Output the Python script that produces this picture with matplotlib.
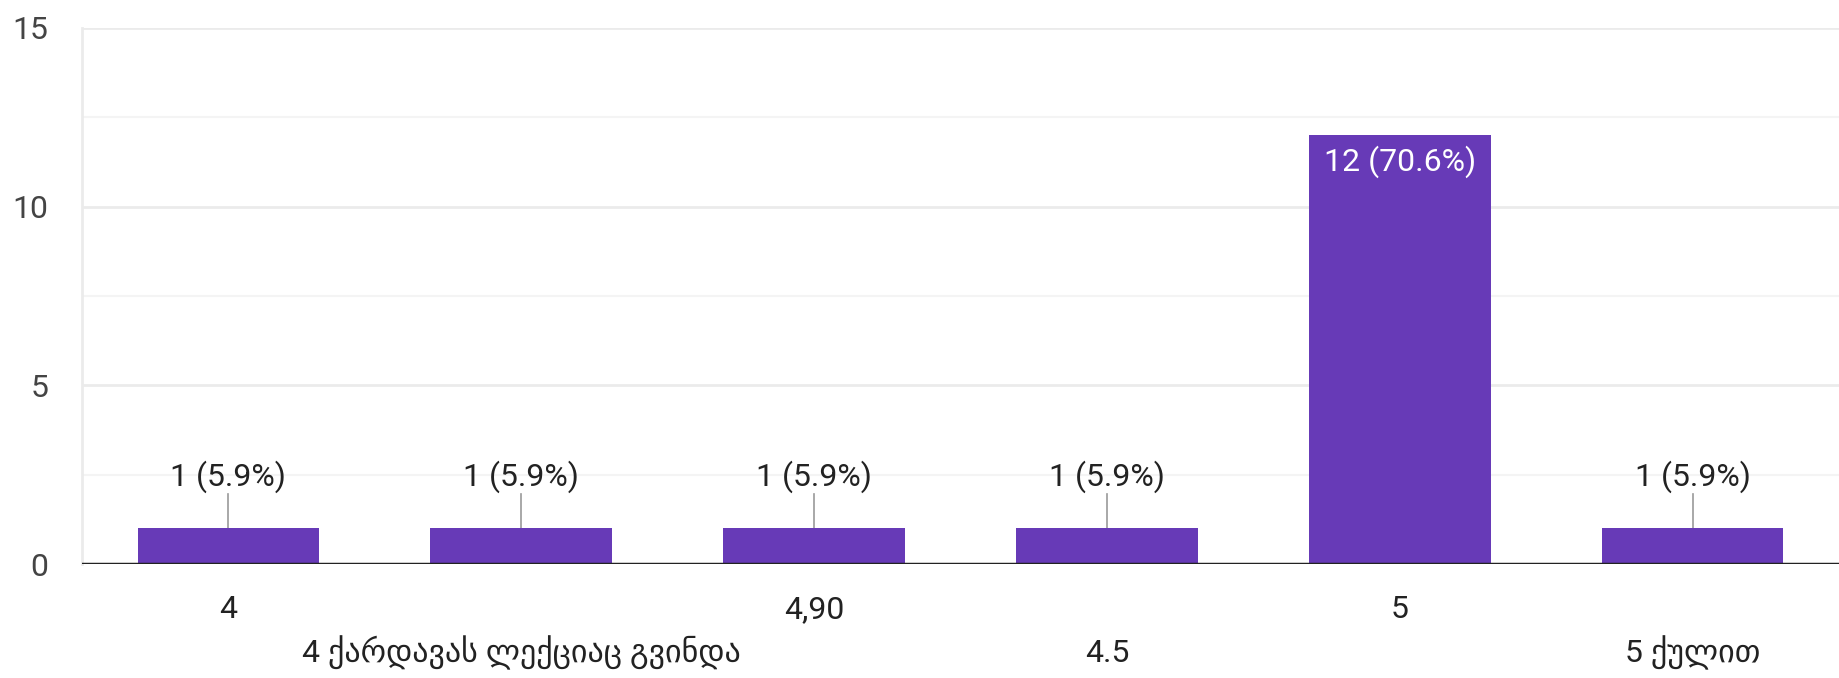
import matplotlib.pyplot as plt
import numpy as np

# answers and how many people gave each one
categories = ["4", "4 ქარდავას ლექციაც გვინდა", "4,90", "4.5", "5", "5 ქულით"]
counts = [1, 1, 1, 1, 12, 1]
y_ticks = [0, 5, 10, 15]
y_minor = [2.5, 7.5, 12.5]

plt.rcParams['font.family'] = ['Roboto', 'DejaVu Sans']

total = sum(counts)
x = np.arange(len(categories))

fig = plt.figure(figsize=(18.39, 6.78), dpi=100)
ax = fig.add_axes([0.0446, 0.168, 0.9554, 0.791])

# grid
for v in y_ticks[1:]:
    ax.axhline(v, color="#ebebeb", lw=2, zorder=0)
for v in y_minor:
    ax.axhline(v, color="#f4f4f4", lw=1.5, zorder=0)

bars = ax.bar(x, counts, width=0.62, color="#673ab7", zorder=2)
ax.axhline(0, color="#222222", lw=2.5, zorder=3)

for xi, c in zip(x, counts):
    label = f"{c} ({c / total * 100:.1f}%)"
    if c > 5:
        ax.text(xi, c - 0.3, label, ha="center", va="top", color="white", fontsize=23, zorder=4)
    else:
        ax.plot([xi, xi], [c, c + 0.95], color="#999999", lw=1.2, zorder=1)
        ax.text(xi, c + 0.98, label, ha="center", va="bottom", color="#222222", fontsize=23)

# x labels on two staggered rows
trans = ax.get_xaxis_transform()
for i, cat in enumerate(categories):
    yy = -0.084 if i % 2 == 0 else -0.166
    ax.text(x[i], yy, cat, transform=trans, ha="center", va="center", color="#222222", fontsize=23)

ax.set_xlim(-0.5, 5.5)
ax.set_ylim(0, 15)
ax.set_xticks([])
ax.set_yticks(y_ticks)
ax.tick_params(axis="y", length=0, pad=24, labelsize=23, labelcolor="#444444")

for s in ["top", "right", "bottom"]:
    ax.spines[s].set_visible(False)
ax.spines["left"].set_color("#ebebeb")
ax.spines["left"].set_linewidth(2)

fig.savefig("out.png")
